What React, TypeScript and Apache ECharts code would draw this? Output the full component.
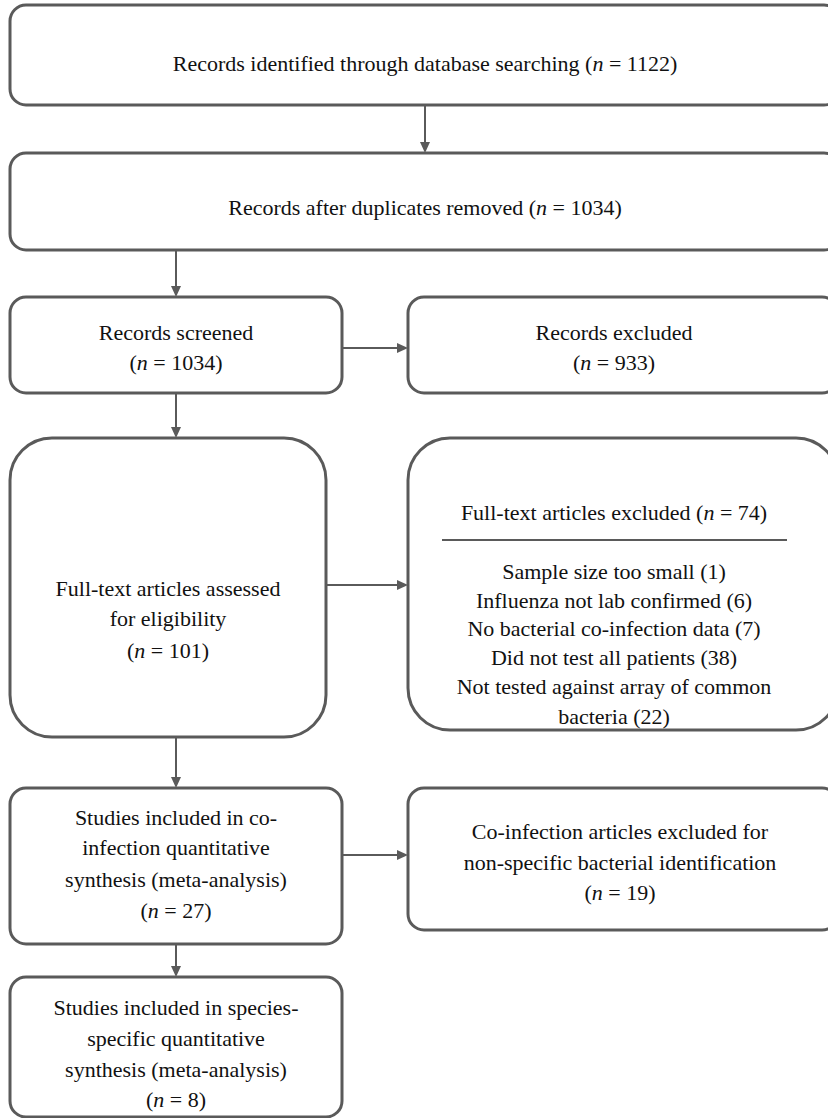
import React, { useEffect, useRef } from "react";
import * as echarts from "echarts";

const boxes = [
  { x: 10, y: 5, w: 830, h: 100, r: 16, cx: 425, lines: ["Records identified through database searching ({i|n} = 1122)"], ly: [63] },
  { x: 10, y: 153, w: 830, h: 97, r: 16, cx: 425, lines: ["Records after duplicates removed ({i|n} = 1034)"], ly: [207] },
  { x: 10, y: 297, w: 332, h: 96, r: 16, cx: 176, lines: ["Records screened", "({i|n} = 1034)"], ly: [332, 362] },
  { x: 408, y: 297, w: 430, h: 96, r: 16, cx: 614, lines: ["Records excluded", "({i|n} = 933)"], ly: [332, 362] },
  { x: 10, y: 438, w: 316, h: 299, r: 42, cx: 168, lines: ["Full-text articles assessed", "for eligibility", "({i|n} = 101)"], ly: [588, 618, 650] },
  { x: 408, y: 438, w: 430, h: 292, r: 42, cx: 614, lines: ["Full-text articles excluded ({i|n} = 74)", "", "Sample size too small (1)", "Influenza not lab confirmed (6)", "No bacterial co-infection data (7)", "Did not test all patients (38)", "Not tested against array of common", "bacteria (22)"], ly: [512, 0, 571, 600, 628, 657, 686, 716] },
  { x: 10, y: 788, w: 332, h: 156, r: 16, cx: 176, lines: ["Studies included in co-", "infection quantitative", "synthesis (meta-analysis)", "({i|n} = 27)"], ly: [817, 847, 879, 910] },
  { x: 408, y: 788, w: 430, h: 142, r: 16, cx: 620, lines: ["Co-infection articles excluded for", "non-specific bacterial identification", "({i|n} = 19)"], ly: [831, 862, 892] },
  { x: 10, y: 977, w: 332, h: 140, r: 16, cx: 176, lines: ["Studies included in species-", "specific quantitative", "synthesis (meta-analysis)", "({i|n} = 8)"], ly: [1007, 1038, 1069, 1099] },
];

const arrows = [
  [425, 105, 425, 153], [176, 250, 176, 297], [342, 348, 408, 348], [176, 393, 176, 438],
  [326, 585, 408, 585], [176, 737, 176, 788], [342, 855, 408, 855], [176, 944, 176, 977],
];

const C = "#5a5a5a";
const FONT = "Liberation Serif, DejaVu Serif, serif";

export default function App() {
  const ref = useRef<HTMLDivElement>(null);
  useEffect(() => {
    const chart = echarts.init(ref.current!, null, { renderer: "svg" });
    const els: any[] = [];
    boxes.forEach((b) => {
      els.push({ type: "rect", shape: { x: b.x, y: b.y, width: b.w, height: b.h, r: b.r }, style: { fill: "#fff", stroke: C, lineWidth: 3 } });
      b.lines.forEach((t, i) => {
        if (!t) return;
        const parts = t.split(/\{i\|n\}/);
        const text = parts.length > 1 ? `{r|${parts[0]}}{i|n}{r|${parts[1]}}` : `{r|${t}}`;
        els.push({
          type: "text", x: b.cx, y: b.ly[i],
          style: { text, fill: "#111", fontFamily: FONT, fontSize: 22, align: "center", verticalAlign: "middle",
            rich: {
              r: { fontFamily: FONT, fontSize: 22, fill: "#111" },
              i: { fontStyle: "italic", fontFamily: FONT, fontSize: 22, fill: "#111" },
            } },
        });
      });
    });
    els.push({ type: "line", shape: { x1: 442, y1: 540, x2: 787, y2: 540 }, style: { stroke: C, lineWidth: 2 } });
    arrows.forEach(([x1, y1, x2, y2]) => {
      const horiz = y1 === y2;
      const ex = horiz ? x2 - 10 : x2, ey = horiz ? y2 : y2 - 10;
      els.push({ type: "line", shape: { x1, y1, x2: ex, y2: ey }, style: { stroke: C, lineWidth: 2 } });
      const pts = horiz ? [[x2, y2], [x2 - 11, y2 - 5], [x2 - 11, y2 + 5]] : [[x2, y2], [x2 - 5, y2 - 11], [x2 + 5, y2 - 11]];
      els.push({ type: "polygon", shape: { points: pts }, style: { fill: C } });
    });
    chart.setOption({ animation: false, graphic: { elements: els } });
    return () => chart.dispose();
  }, []);
  return <div ref={ref} style={{ position: "absolute", left: 0, top: 0, width: 828, height: 1118, background: "#fff" }} />;
}
